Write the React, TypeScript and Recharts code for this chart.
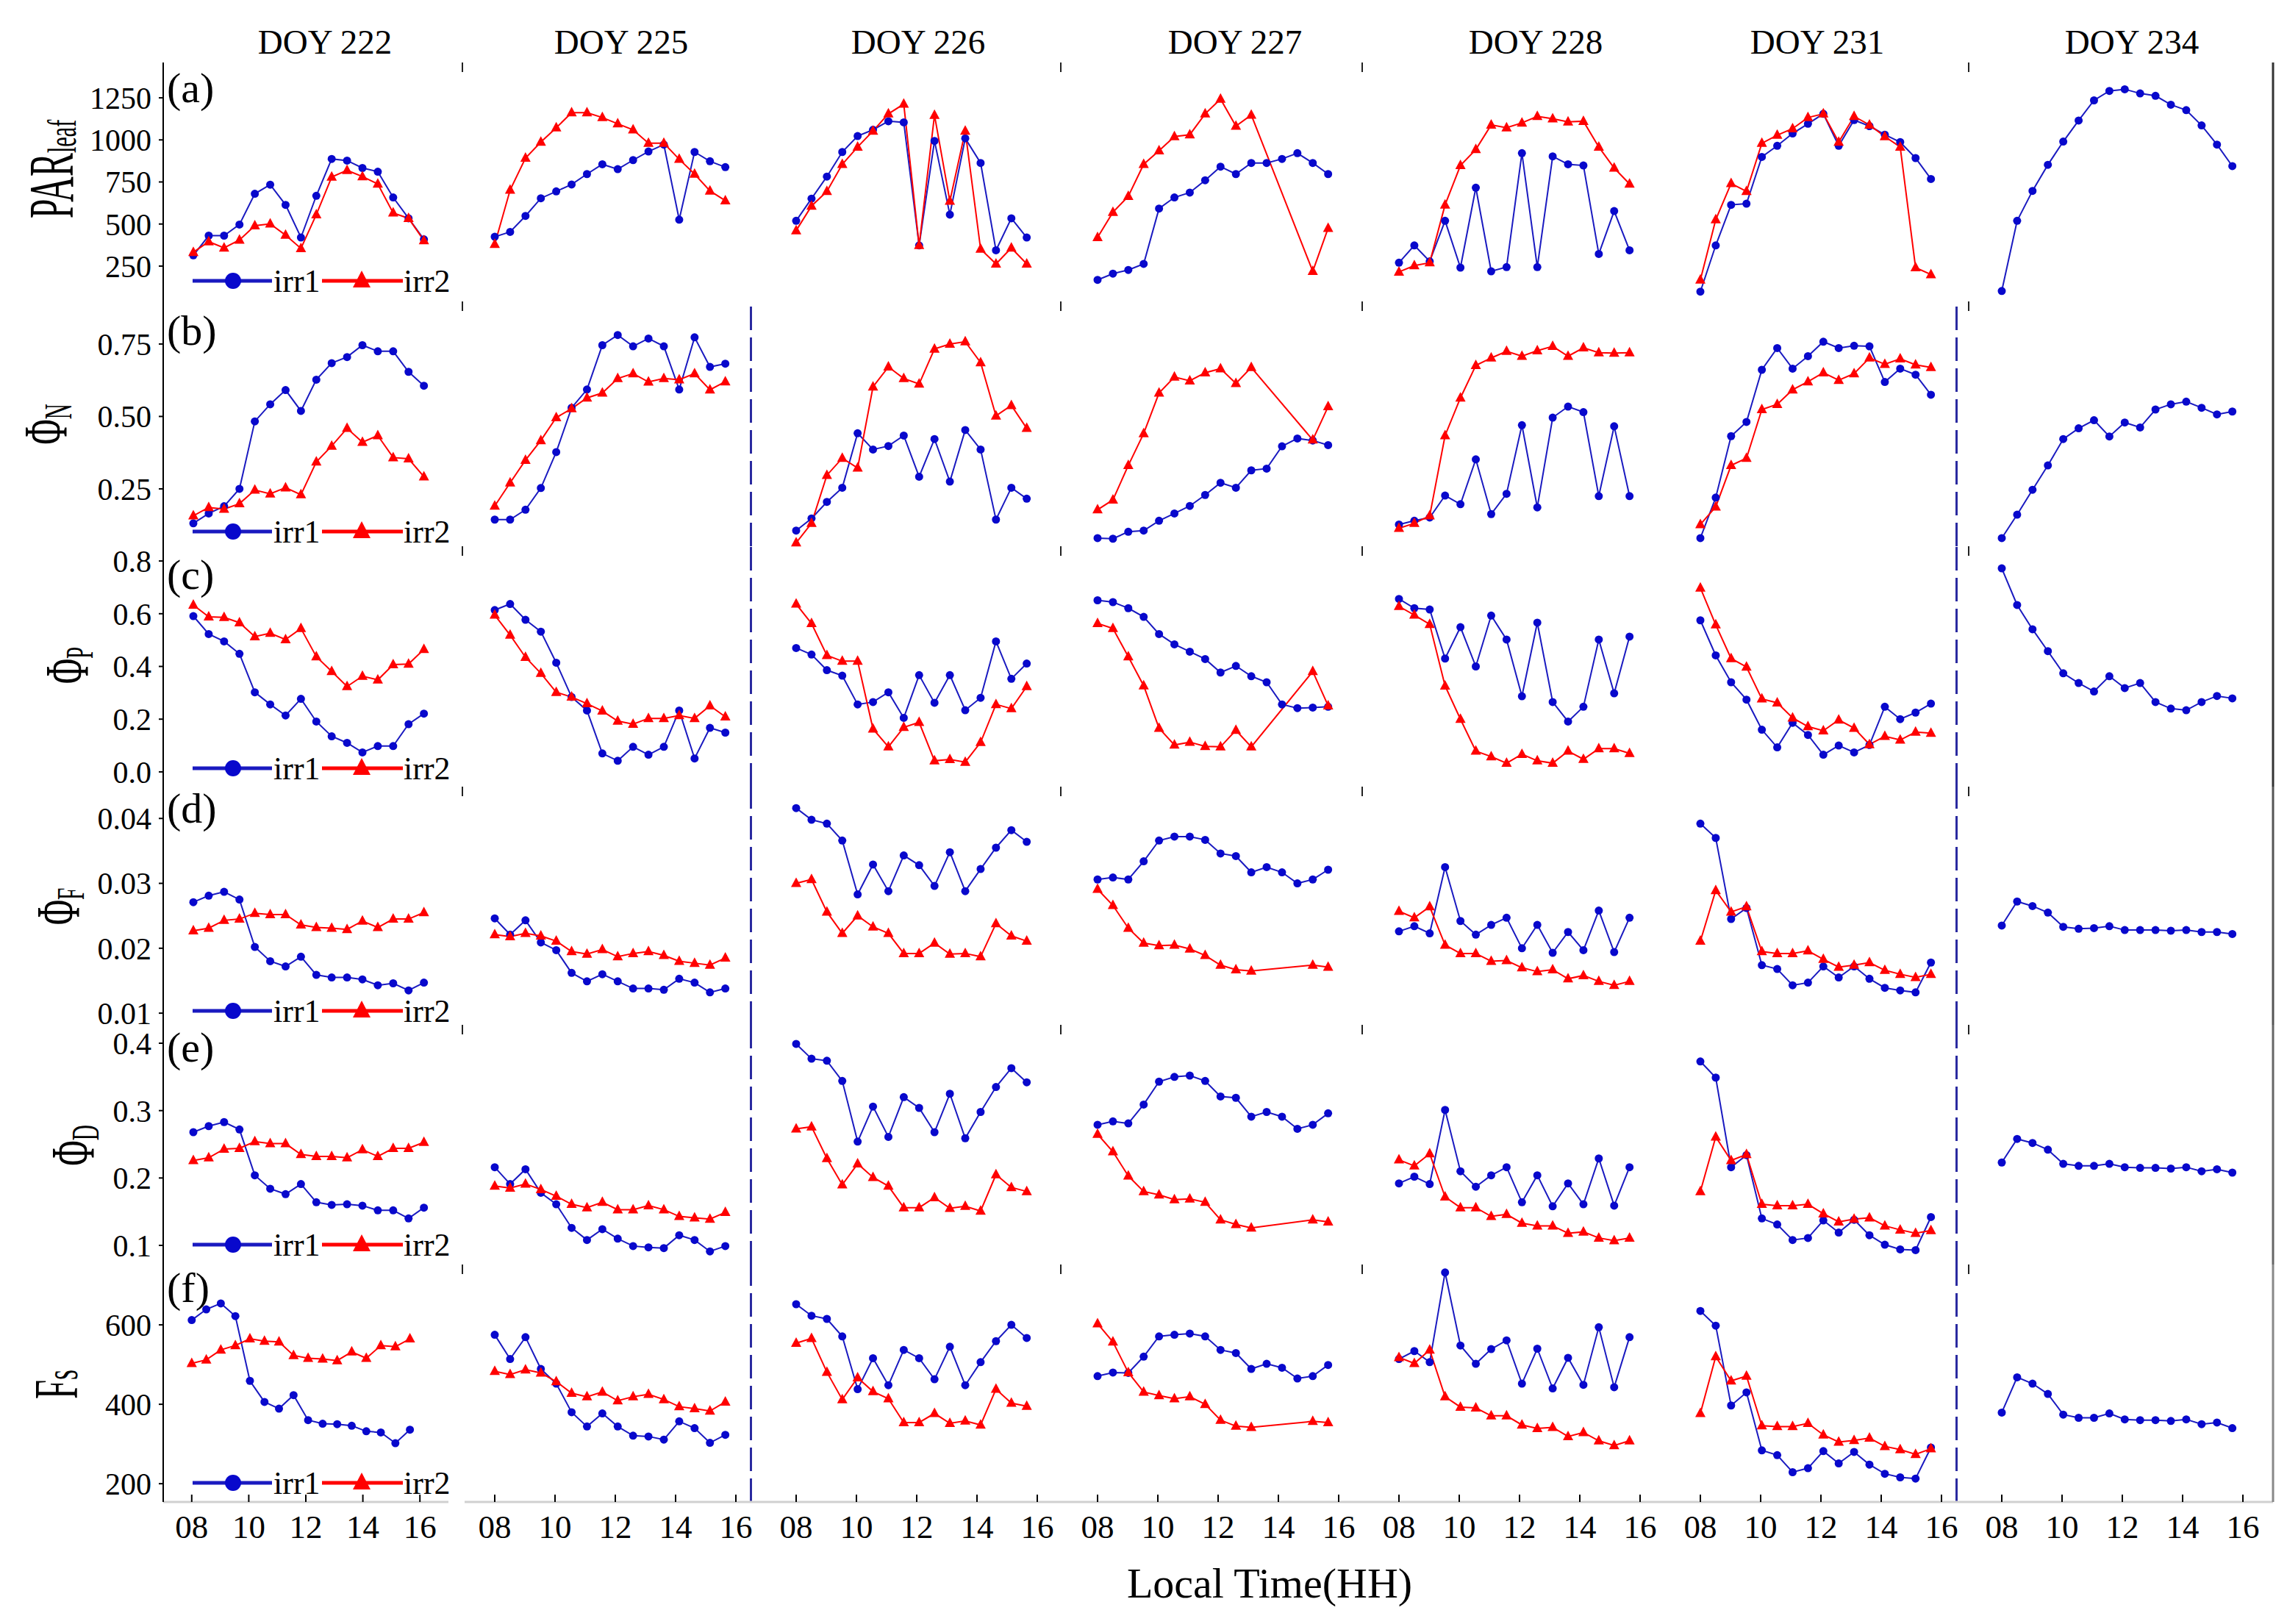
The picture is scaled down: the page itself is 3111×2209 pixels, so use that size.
import React from "react";
import { LineChart, Line, XAxis, YAxis, ReferenceLine } from "recharts";

const FONT = "'Liberation Serif', 'Times New Roman', serif";
const BLUE = "#0808cc";
const BLUE_LINE = "#1a1ac0";
const RED = "#ff0000";

const DAYS = ["DOY 222", "DOY 225", "DOY 226", "DOY 227", "DOY 228", "DOY 231", "DOY 234"];
const HOURS = [8.0, 8.51, 9.02, 9.53, 10.04, 10.55, 11.06, 11.57, 12.08, 12.59, 13.1, 13.61, 14.12, 14.63, 15.14, 15.65];
const HOUR_TICKS = [8, 10, 12, 14, 16];

// (a) PAR leaf
const PAR_IRR1 = [
  [314, 431, 431, 497, 680, 734, 614, 420, 668, 887, 877, 833, 811, 658, 534, 409],
  [424, 453, 548, 653, 694, 735, 797, 855, 826, 880, 931, 972, 526, 928, 873, 838],
  [519, 651, 782, 928, 1023, 1060, 1111, 1104, 373, 994, 556, 1009, 863, 344, 534, 420],
  [168, 205, 227, 263, 592, 658, 687, 760, 841, 797, 863, 863, 887, 921, 863, 797],
  [270, 373, 278, 519, 241, 716, 219, 244, 921, 244, 902, 855, 848, 322, 577, 344],
  [98, 373, 614, 621, 899, 965, 1038, 1096, 1155, 965, 1118, 1082, 1031, 987, 892, 768],
  [102, 519, 697, 852, 990, 1115, 1235, 1291, 1301, 1276, 1262, 1209, 1177, 1086, 972, 844],
];
const PAR_IRR2 = [
  [332, 395, 358, 405, 490, 501, 434, 355, 556, 779, 819, 782, 738, 566, 534, 402],
  [380, 702, 892, 987, 1072, 1162, 1162, 1133, 1096, 1060, 980, 980, 885, 797, 697, 639],
  [461, 607, 694, 855, 958, 1053, 1155, 1213, 373, 1147, 636, 1053, 351, 263, 358, 263],
  [420, 570, 665, 855, 936, 1020, 1031, 1155, 1243, 1082, 1148, null, null, null, 219, 475],
  [215, 253, 270, 614, 848, 943, 1089, 1072, 1101, 1140, 1126, 1107, 1111, 958, 833, 738],
  [168, 526, 741, 694, 980, 1028, 1067, 1133, 1155, 987, 1140, 1089, 1020, 958, 241, 200],
  [],
];

// (b) Phi N
const PHIN_IRR1 = [
  [0.131, 0.165, 0.19, 0.25, 0.483, 0.542, 0.591, 0.519, 0.627, 0.684, 0.705, 0.746, 0.725, 0.725, 0.654, 0.606],
  [0.144, 0.144, 0.178, 0.253, 0.377, 0.53, 0.593, 0.746, 0.781, 0.742, 0.769, 0.742, 0.593, 0.773, 0.671, 0.682],
  [0.106, 0.148, 0.205, 0.254, 0.442, 0.386, 0.398, 0.434, 0.292, 0.422, 0.275, 0.453, 0.386, 0.144, 0.254, 0.216],
  [0.08, 0.078, 0.102, 0.106, 0.14, 0.165, 0.191, 0.229, 0.271, 0.254, 0.314, 0.32, 0.397, 0.424, 0.417, 0.401],
  [0.127, 0.14, 0.151, 0.227, 0.197, 0.352, 0.163, 0.233, 0.47, 0.186, 0.496, 0.534, 0.515, 0.225, 0.466, 0.225],
  [0.08, 0.22, 0.432, 0.481, 0.661, 0.736, 0.665, 0.708, 0.758, 0.736, 0.744, 0.742, 0.619, 0.665, 0.644, 0.575],
  [0.08, 0.161, 0.247, 0.331, 0.422, 0.459, 0.487, 0.431, 0.479, 0.462, 0.524, 0.542, 0.551, 0.53, 0.507, 0.517],
];
const PHIN_IRR2 = [
  [0.157, 0.186, 0.18, 0.199, 0.246, 0.233, 0.254, 0.23, 0.343, 0.398, 0.459, 0.411, 0.434, 0.358, 0.354, 0.292],
  [0.191, 0.271, 0.349, 0.417, 0.496, 0.527, 0.564, 0.581, 0.631, 0.648, 0.619, 0.631, 0.627, 0.648, 0.592, 0.62],
  [0.064, 0.131, 0.297, 0.356, 0.322, 0.602, 0.671, 0.631, 0.612, 0.733, 0.75, 0.758, 0.686, 0.502, 0.538, 0.459],
  [0.178, 0.212, 0.331, 0.441, 0.581, 0.636, 0.623, 0.651, 0.665, 0.614, 0.669, null, null, null, 0.419, 0.534],
  [0.114, 0.131, 0.157, 0.434, 0.564, 0.676, 0.702, 0.725, 0.708, 0.727, 0.742, 0.708, 0.737, 0.72, 0.719, 0.72],
  [0.127, 0.188, 0.331, 0.356, 0.524, 0.542, 0.592, 0.62, 0.651, 0.625, 0.648, 0.702, 0.68, 0.699, 0.678, 0.669],
  [],
];

// (c) Phi P
const PHIP_IRR1 = [
  [0.591, 0.523, 0.495, 0.448, 0.302, 0.256, 0.214, 0.277, 0.191, 0.135, 0.11, 0.074, 0.098, 0.098, 0.181, 0.221],
  [0.614, 0.637, 0.577, 0.532, 0.414, 0.284, 0.233, 0.07, 0.042, 0.095, 0.065, 0.095, 0.233, 0.051, 0.167, 0.149],
  [0.47, 0.445, 0.386, 0.365, 0.256, 0.265, 0.302, 0.205, 0.367, 0.262, 0.367, 0.234, 0.281, 0.495, 0.353, 0.411],
  [0.651, 0.644, 0.621, 0.588, 0.523, 0.484, 0.456, 0.428, 0.377, 0.402, 0.363, 0.34, 0.256, 0.242, 0.244, 0.247],
  [0.656, 0.621, 0.616, 0.43, 0.549, 0.4, 0.593, 0.502, 0.287, 0.566, 0.265, 0.191, 0.247, 0.502, 0.298, 0.513],
  [0.575, 0.442, 0.34, 0.274, 0.16, 0.093, 0.186, 0.14, 0.065, 0.1, 0.074, 0.102, 0.247, 0.2, 0.225, 0.259],
  [0.772, 0.633, 0.541, 0.458, 0.374, 0.337, 0.305, 0.363, 0.318, 0.337, 0.265, 0.24, 0.234, 0.265, 0.288, 0.279],
];
const PHIP_IRR2 = [
  [0.633, 0.588, 0.586, 0.566, 0.513, 0.526, 0.502, 0.544, 0.437, 0.381, 0.324, 0.363, 0.349, 0.407, 0.409, 0.465],
  [0.595, 0.519, 0.435, 0.374, 0.302, 0.284, 0.259, 0.231, 0.193, 0.181, 0.203, 0.203, 0.214, 0.203, 0.251, 0.209],
  [0.637, 0.563, 0.442, 0.42, 0.42, 0.163, 0.095, 0.169, 0.188, 0.042, 0.047, 0.037, 0.112, 0.256, 0.24, 0.324],
  [0.563, 0.544, 0.437, 0.327, 0.166, 0.102, 0.113, 0.097, 0.095, 0.158, 0.095, null, null, null, 0.381, 0.251],
  [0.628, 0.595, 0.56, 0.326, 0.2, 0.079, 0.058, 0.033, 0.067, 0.042, 0.033, 0.079, 0.048, 0.088, 0.088, 0.07],
  [0.698, 0.558, 0.43, 0.398, 0.277, 0.262, 0.205, 0.172, 0.156, 0.197, 0.166, 0.104, 0.135, 0.121, 0.151, 0.147],
  [],
];

// (d) Phi F
const PHIF_IRR1 = [
  [0.0271, 0.0281, 0.0287, 0.0275, 0.0202, 0.018, 0.0172, 0.0187, 0.0159, 0.0155, 0.0155, 0.0152, 0.0143, 0.0146, 0.0135, 0.0147],
  [0.0246, 0.0221, 0.0243, 0.0209, 0.0197, 0.0162, 0.0149, 0.016, 0.0149, 0.0138, 0.0138, 0.0136, 0.0153, 0.0147, 0.0132, 0.0138],
  [0.0416, 0.0398, 0.0392, 0.0366, 0.0283, 0.0329, 0.0288, 0.0343, 0.0328, 0.0296, 0.0348, 0.0288, 0.0322, 0.0355, 0.0382, 0.0364],
  [0.0306, 0.0309, 0.0306, 0.0334, 0.0366, 0.0372, 0.0372, 0.0367, 0.0346, 0.0342, 0.0317, 0.0325, 0.0317, 0.03, 0.0306, 0.0321],
  [0.0226, 0.0234, 0.0223, 0.0325, 0.0242, 0.0221, 0.0236, 0.0247, 0.02, 0.0236, 0.0193, 0.0225, 0.0197, 0.0258, 0.0194, 0.0247],
  [0.0392, 0.037, 0.0245, 0.0262, 0.0174, 0.0168, 0.0143, 0.0147, 0.0172, 0.0155, 0.0172, 0.0153, 0.0139, 0.0135, 0.0132, 0.0178],
  [0.0235, 0.0272, 0.0265, 0.0255, 0.0233, 0.023, 0.0231, 0.0234, 0.0228, 0.0228, 0.0228, 0.0227, 0.0228, 0.0225, 0.0225, 0.0222],
];
const PHIF_IRR2 = [
  [0.0227, 0.0231, 0.0243, 0.0245, 0.0254, 0.0252, 0.0252, 0.0236, 0.0232, 0.0231, 0.0229, 0.0242, 0.0232, 0.0245, 0.0245, 0.0255],
  [0.0221, 0.0218, 0.0223, 0.0219, 0.0211, 0.0195, 0.0191, 0.0198, 0.0187, 0.0192, 0.0195, 0.0189, 0.018, 0.0177, 0.0174, 0.0185],
  [0.03, 0.0306, 0.0256, 0.0223, 0.025, 0.0233, 0.0223, 0.0192, 0.0192, 0.0208, 0.0191, 0.0192, 0.0187, 0.0238, 0.0219, 0.0211],
  [0.0291, 0.0266, 0.0231, 0.0208, 0.0204, 0.0205, 0.0199, 0.0189, 0.0174, 0.0167, 0.0165, null, null, null, 0.0174, 0.0171],
  [0.0257, 0.0247, 0.0264, 0.0205, 0.0192, 0.0192, 0.018, 0.0181, 0.017, 0.0164, 0.0167, 0.0153, 0.0158, 0.0149, 0.0143, 0.0149],
  [0.0211, 0.0289, 0.0256, 0.0264, 0.0195, 0.0192, 0.0192, 0.0196, 0.0183, 0.0171, 0.0174, 0.0178, 0.0166, 0.016, 0.0155, 0.016],
  [],
];

// (e) Phi D
const PHID_IRR1 = [
  [0.268, 0.277, 0.283, 0.272, 0.204, 0.184, 0.176, 0.191, 0.164, 0.16, 0.161, 0.159, 0.152, 0.152, 0.14, 0.156],
  [0.216, 0.191, 0.213, 0.178, 0.161, 0.126, 0.108, 0.124, 0.11, 0.099, 0.097, 0.096, 0.115, 0.108, 0.091, 0.099],
  [0.399, 0.377, 0.374, 0.344, 0.254, 0.306, 0.261, 0.32, 0.304, 0.268, 0.325, 0.259, 0.298, 0.335, 0.363, 0.342],
  [0.279, 0.284, 0.281, 0.309, 0.343, 0.35, 0.352, 0.344, 0.321, 0.319, 0.291, 0.298, 0.291, 0.273, 0.279, 0.296],
  [0.192, 0.202, 0.191, 0.301, 0.21, 0.187, 0.204, 0.216, 0.164, 0.204, 0.158, 0.192, 0.161, 0.229, 0.159, 0.216],
  [0.373, 0.349, 0.216, 0.234, 0.14, 0.131, 0.108, 0.111, 0.137, 0.119, 0.138, 0.115, 0.101, 0.094, 0.093, 0.142],
  [0.223, 0.258, 0.252, 0.242, 0.221, 0.218, 0.218, 0.221, 0.216, 0.215, 0.215, 0.214, 0.216, 0.21, 0.213, 0.208],
];
const PHID_IRR2 = [
  [0.226, 0.23, 0.243, 0.244, 0.254, 0.251, 0.251, 0.235, 0.232, 0.232, 0.23, 0.242, 0.232, 0.244, 0.244, 0.253],
  [0.188, 0.185, 0.191, 0.183, 0.173, 0.161, 0.156, 0.164, 0.153, 0.153, 0.159, 0.153, 0.143, 0.141, 0.139, 0.149],
  [0.273, 0.276, 0.229, 0.19, 0.221, 0.201, 0.188, 0.156, 0.156, 0.171, 0.155, 0.158, 0.151, 0.205, 0.186, 0.18],
  [0.265, 0.239, 0.203, 0.18, 0.175, 0.168, 0.169, 0.164, 0.138, 0.131, 0.126, null, null, null, 0.138, 0.135],
  [0.227, 0.218, 0.236, 0.172, 0.156, 0.156, 0.143, 0.146, 0.133, 0.129, 0.129, 0.118, 0.12, 0.111, 0.107, 0.111],
  [0.18, 0.261, 0.226, 0.235, 0.161, 0.159, 0.159, 0.161, 0.147, 0.135, 0.139, 0.141, 0.129, 0.123, 0.118, 0.122],
  [],
];

// (f) Fs
const FS_IRR1 = [
  [612, 639, 654, 622, 459, 406, 389, 423, 360, 351, 350, 346, 332, 329, 302, 336],
  [575, 514, 569, 489, 452, 380, 344, 377, 344, 321, 319, 311, 357, 340, 303, 323],
  [652, 623, 615, 571, 438, 516, 448, 537, 516, 463, 545, 448, 506, 559, 600, 567],
  [471, 480, 479, 520, 571, 575, 578, 571, 537, 529, 489, 502, 492, 465, 471, 499],
  [514, 534, 506, 732, 548, 502, 539, 561, 452, 540, 440, 517, 449, 594, 443, 569],
  [635, 598, 397, 430, 284, 272, 229, 239, 282, 251, 280, 248, 225, 216, 213, 291],
  [379, 468, 452, 426, 374, 366, 366, 377, 362, 360, 360, 358, 362, 350, 354, 340],
];
const FS_IRR2 = [
  [503, 512, 537, 548, 565, 559, 557, 523, 516, 514, 510, 532, 516, 548, 545, 565],
  [483, 475, 487, 479, 457, 428, 419, 431, 409, 419, 425, 412, 394, 389, 383, 406],
  [554, 566, 481, 412, 467, 432, 414, 354, 354, 377, 352, 358, 348, 438, 403, 395],
  [603, 557, 480, 431, 422, 414, 419, 400, 360, 345, 342, null, null, null, 357, 354],
  [518, 503, 537, 419, 393, 391, 371, 371, 348, 339, 342, 319, 329, 308, 296, 308],
  [377, 520, 459, 471, 346, 344, 344, 352, 323, 305, 309, 315, 294, 286, 274, 288],
  [],
];

const ROWS = [
  { letter: "(a)", irr1: PAR_IRR1, irr2: PAR_IRR2, domain: [40, 1460], ticks: [250, 500, 750, 1000, 1250], digits: 0, axis: "#000", axisW: 4, right: "#333" },
  { letter: "(b)", irr1: PHIN_IRR1, irr2: PHIN_IRR2, domain: [0.052, 0.897], ticks: [0.25, 0.5, 0.75], digits: 2, axis: "#b4b4b4", axisW: 4, right: "#333" },
  { letter: "(c)", irr1: PHIP_IRR1, irr2: PHIP_IRR2, domain: [-0.056, 0.856], ticks: [0, 0.2, 0.4, 0.6, 0.8], digits: 1, axis: "#000", axisW: 4, right: "#333" },
  { letter: "(d)", irr1: PHIF_IRR1, irr2: PHIF_IRR2, domain: [0.0082, 0.0449], ticks: [0.01, 0.02, 0.03, 0.04], digits: 2, axis: "#000", axisW: 4, right: "#555" },
  { letter: "(e)", irr1: PHID_IRR1, irr2: PHID_IRR2, domain: [0.0716, 0.4273], ticks: [0.1, 0.2, 0.3, 0.4], digits: 1, axis: null, axisW: 0, right: "#666" },
  { letter: "(f)", irr1: FS_IRR1, irr2: FS_IRR2, domain: [154, 752], ticks: [200, 400, 600], digits: 0, axis: "#d0d0d0", axisW: 3, right: "#888" },
];

// page layout
const LEFT = 222;
const COL_W = 410;
const LAYOUT = [
  { top: 85, h: 325, legendY: 382, letterY: 139, titleX: 99, titleY: 230 },
  { top: 410, h: 333, legendY: 723, letterY: 469, titleX: 91, titleY: 577 },
  { top: 743, h: 327, legendY: 1045, letterY: 801, titleX: 120, titleY: 905 },
  { top: 1070, h: 324, legendY: 1375, letterY: 1119, titleX: 108, titleY: 1233 },
  { top: 1394, h: 326, legendY: 1693, letterY: 1444, titleX: 128, titleY: 1558 },
  { top: 1720, h: 323, legendY: 2017, letterY: 1771, titleX: 105, titleY: 1883 },
];
const DOY_X = [442, 845, 1249, 1680, 2089, 2472, 2900];
const SEP_X = [629, 1443, 1853, 2678];

const CircleDot = (props: any) => {
  const { cx, cy, index } = props;
  if (cx == null || cy == null) return <g key={`c${index}`} />;
  return <circle key={`c${index}`} cx={cx} cy={cy} r={5.5} fill={BLUE} />;
};

const TriDot = (props: any) => {
  const { cx, cy, index } = props;
  if (cx == null || cy == null) return <g key={`t${index}`} />;
  return (
    <polygon
      key={`t${index}`}
      points={`${cx},${cy - 8} ${cx - 7},${cy + 5} ${cx + 7},${cy + 5}`}
      fill={RED}
    />
  );
};

const Panel = ({ r, c }: { r: number; c: number }) => {
  const row = ROWS[r];
  const lay = LAYOUT[r];
  const first = c === 0;
  const last = c === 6;
  const bottom = r === 5;
  const plotW = bottom && first ? 388 : COL_W;
  const width = (first ? LEFT : 0) + plotW + (last ? 2 : 0);
  const xh = bottom ? 70 : 0;
  const a = row.irr1[c];
  const b = row.irr2[c];
  const data = HOURS.map((t, i) => ({
    t,
    irr1: a[i] ?? null,
    irr2: b.length ? b[i] ?? null : null,
  }));
  const left = first ? 0 : LEFT + c * COL_W;

  return (
    <div style={{ position: "absolute", left, top: lay.top }}>
      <LineChart width={width} height={lay.h + xh} data={data} margin={{ top: 0, right: 0, bottom: 0, left: 0 }}>
        <XAxis
          dataKey="t"
          type="number"
          domain={[7, 17]}
          ticks={HOUR_TICKS}
          interval={0}
          height={xh}
          axisLine={row.axis ? { stroke: row.axis, strokeWidth: row.axisW } : false}
          tickLine={{ stroke: "#000", strokeWidth: 2 }}
          tickSize={-10}
          tickMargin={27}
          tickFormatter={(v) => String(v).padStart(2, "0")}
          tick={bottom ? { fontSize: 45, fill: "#000", fontFamily: FONT } : false}
        />
        {first ? (
          <YAxis
            type="number"
            domain={row.domain}
            ticks={row.ticks}
            interval={0}
            width={LEFT}
            axisLine={{ stroke: "#000", strokeWidth: 2 }}
            tickLine={{ stroke: "#000", strokeWidth: 2 }}
            tickSize={6}
            tickMargin={10}
            tickFormatter={(v) => Number(v).toFixed(row.digits)}
            tick={{ fontSize: 42, fill: "#000", fontFamily: FONT }}
          />
        ) : last ? (
          <YAxis
            type="number"
            orientation="right"
            domain={row.domain}
            width={2}
            tick={false}
            tickLine={false}
            axisLine={{ stroke: row.right, strokeWidth: 3 }}
          />
        ) : (
          <YAxis type="number" domain={row.domain} hide />
        )}
        {r > 0 && (c === 1 || c === 5) && (
          <ReferenceLine x={16.5} stroke="#2a2aa0" strokeWidth={3} strokeDasharray="32 10" ifOverflow="visible" />
        )}
        <Line
          dataKey="irr1"
          stroke={BLUE_LINE}
          strokeWidth={2}
          dot={CircleDot}
          activeDot={false}
          connectNulls
          isAnimationActive={false}
        />
        {b.length > 0 && (
          <Line
            dataKey="irr2"
            stroke={RED}
            strokeWidth={2}
            dot={TriDot}
            activeDot={false}
            connectNulls
            isAnimationActive={false}
          />
        )}
      </LineChart>
    </div>
  );
};

const AxisTitle = ({ r }: { r: number }) => {
  const lay = LAYOUT[r];
  const tf = `translate(${lay.titleX},${lay.titleY}) rotate(-90) scale(0.56,1)`;
  let content: React.ReactNode;
  if (r === 0) {
    content = (
      <>
        PAR<tspan fontSize={54} dy={4}>leaf</tspan>
      </>
    );
  } else if (r === 5) {
    content = (
      <>
        F<tspan fontSize={64}>s</tspan>
      </>
    );
  } else {
    const sub = ["", "N", "P", "F", "D"][r];
    content = (
      <>
        Φ<tspan fontSize={52} dy={6}>{sub}</tspan>
      </>
    );
  }
  return (
    <g transform={tf}>
      <text textAnchor="middle" fontSize={r === 0 ? 86 : 84} fill="#000">
        {content}
      </text>
    </g>
  );
};

const LegendBox = ({ y }: { y: number }) => (
  <g fontSize={44} fill="#000">
    <line x1={262} x2={370} y1={y} y2={y} stroke={BLUE_LINE} strokeWidth={5} />
    <circle cx={317} cy={y} r={11} fill={BLUE} />
    <text x={372} y={y + 15}>irr1</text>
    <line x1={438} x2={548} y1={y} y2={y} stroke={RED} strokeWidth={5} />
    <polygon points={`${492},${y - 14} ${480},${y + 9} ${504},${y + 9}`} fill={RED} />
    <text x={549} y={y + 15}>irr2</text>
  </g>
);

export default function App() {
  return (
    <div style={{ position: "absolute", left: 0, top: 0, width: 3111, height: 2209, background: "#fff", fontFamily: FONT }}>
      <style>{`.recharts-surface{overflow:visible} svg text{font-family:"Liberation Serif","Times New Roman",serif !important}`}</style>
      {ROWS.map((_, r) => DAYS.map((_d, c) => <Panel key={`${r}-${c}`} r={r} c={c} />))}
      <svg width={3111} height={2209} style={{ position: "absolute", left: 0, top: 0, pointerEvents: "none" }}>
        {DAYS.map((d, i) => (
          <text key={d} x={DOY_X[i]} y={73} textAnchor="middle" fontSize={47} fill="#000">
            {d}
          </text>
        ))}
        {LAYOUT.map((lay, r) =>
          SEP_X.map((x) => (
            <line key={`s${r}-${x}`} x1={x} x2={x} y1={lay.top} y2={lay.top + 13} stroke="#222" strokeWidth={2} />
          ))
        )}
        {ROWS.map((row, r) => (
          <g key={row.letter}>
            <text x={227} y={LAYOUT[r].letterY} fontSize={58} fill="#000">
              {row.letter}
            </text>
            <AxisTitle r={r} />
            <LegendBox y={LAYOUT[r].legendY} />
          </g>
        ))}
        <text x={1727} y={2173} textAnchor="middle" fontSize={58} fill="#000">
          Local Time(HH)
        </text>
      </svg>
    </div>
  );
}
